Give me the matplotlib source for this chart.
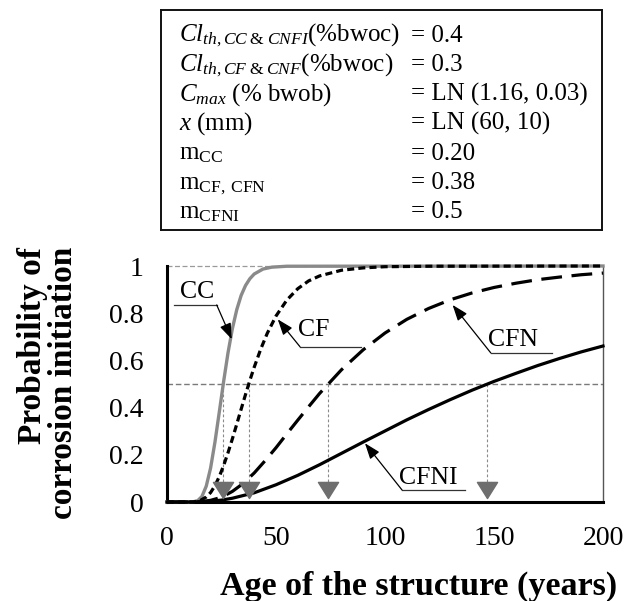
import matplotlib
matplotlib.use("Agg")
import matplotlib.pyplot as plt
from matplotlib.path import Path

plt.rcParams['font.family'] = ['Liberation Serif', 'DejaVu Serif']
plt.rcParams['mathtext.fontset'] = 'custom'
plt.rcParams['mathtext.rm'] = 'Liberation Serif'
plt.rcParams['mathtext.it'] = 'Liberation Serif:italic'
plt.rcParams['mathtext.bf'] = 'Liberation Serif:bold'

# Probability of corrosion initiation vs. age (years)
cc_years = [0, 10, 12, 14, 16, 18, 20, 22, 24, 26, 28, 30, 32, 34, 36, 38, 40, 44, 48, 55, 200]
cc_prob = [0, 0, 0.001, 0.005, 0.023, 0.067, 0.144, 0.254, 0.382, 0.512, 0.633, 0.735,
           0.815, 0.875, 0.917, 0.946, 0.966, 0.987, 0.995, 0.999, 1.0]

cf_years = [0, 12, 15, 18, 20, 22, 24, 26, 28, 30, 32, 34, 36, 38, 40, 43, 46, 50, 55,
            60, 65, 70, 80, 90, 100, 120, 200]
cf_prob = [0, 0, 0.005, 0.021, 0.040, 0.069, 0.108, 0.155, 0.209, 0.268, 0.330, 0.393,
           0.455, 0.515, 0.571, 0.648, 0.715, 0.788, 0.856, 0.904, 0.937, 0.958, 0.982,
           0.992, 0.997, 0.999, 1.0]

cfn_years = [0, 10, 15, 20, 25, 30, 35, 40, 45, 50, 55, 60, 65, 70, 74, 80, 90, 100, 110,
             120, 130, 140, 150, 160, 170, 180, 190, 200]
cfn_prob = [0, 0, 0.001, 0.007, 0.020, 0.045, 0.079, 0.123, 0.175, 0.230, 0.289, 0.347,
            0.404, 0.460, 0.500, 0.560, 0.645, 0.716, 0.774, 0.820, 0.857, 0.886, 0.909,
            0.927, 0.942, 0.953, 0.963, 0.970]

cfni_years = [0, 10, 15, 20, 25, 30, 40, 50, 60, 70, 80, 90, 100, 110, 120, 130, 140, 150,
              160, 170, 180, 190, 200]
cfni_prob = [0, 0, 0.001, 0.0035, 0.008, 0.016, 0.039, 0.073, 0.113, 0.158, 0.206, 0.254,
             0.301, 0.348, 0.392, 0.434, 0.474, 0.511, 0.545, 0.578, 0.608, 0.636, 0.661]

# mean initiation times read at P = 0.5
threshold = 0.5
init_times = [25.5, 37.8, 74, 147]

x_ticks = [0, 50, 100, 150, 200]
y_ticks = [0, 0.2, 0.4, 0.6, 0.8, 1]
y_ticklabels = ['0', '0.2', '0.4', '0.6', '0.8', '1']

param_names = [r'$Cl_{th,CC\;&\;CNFI}$(%bwoc)',
               r'$Cl_{th,CF\;&\;CNF}$(%bwoc)',
               r'$C_{max}$ (% bwob)',
               r'$x$ (mm)',
               r'm$_{\mathrm{CC}}$',
               r'm$_{\mathrm{CF,\;CFN}}$',
               r'm$_{\mathrm{CFNI}}$']
param_values = ['= 0.4', '= 0.3', '= LN (1.16, 0.03)', '= LN (60, 10)',
                '= 0.20', '= 0.38', '= 0.5']

W, H = 635, 601
fig = plt.figure(figsize=(W / 100, H / 100), dpi=100)

# ---- parameter box ----
bx0, by0, bx1, by1 = 161, 10, 602, 230
axb = fig.add_axes([bx0 / W, 1 - by1 / H, (bx1 - bx0) / W, (by1 - by0) / H])
axb.set_xticks([])
axb.set_yticks([])
axb.set_xlim(bx0, bx1)
axb.set_ylim(by1, by0)
for s in axb.spines.values():
    s.set_linewidth(1.4)
    s.set_color('#111111')
baselines = [41.5, 71, 100.5, 130, 159.5, 189, 218]
for name, val, yb in zip(param_names, param_values, baselines):
    axb.text(179, yb, name, fontsize=18, va='baseline', ha='left')
    axb.text(411, yb, val, fontsize=18, va='baseline', ha='left')

# ---- main plot ----
ax = fig.add_axes([167 / W, 1 - 502 / H, 436 / W, 236 / H])
ax.set_xlim(0, 200)
ax.set_ylim(0, 1)

gray = '#8a8a8a'
ax.axhline(1.0, color='#9a9a9a', lw=0.9, ls=(0, (4, 2)), zorder=1, clip_on=False)
ax.axhline(threshold, color='#7a7a7a', lw=1.0, ls=(0, (4, 2)), zorder=1)
for t in init_times:
    ax.plot([t, t], [threshold, 0.08], color='#8a8a8a', lw=0.8, ls=(0, (2.5, 2)), zorder=1)

ax.plot(cc_years, cc_prob, color=gray, lw=2.4, zorder=3, clip_on=False)
ax.plot(cf_years, cf_prob, color='black', lw=2.3, ls=(0, (2.2, 1.3)), zorder=3, clip_on=False)
ax.plot(cfn_years, cfn_prob, color='black', lw=2.3, ls=(0, (6.5, 3.0)), zorder=3, clip_on=False)
ax.plot(cfni_years, cfni_prob, color='black', lw=2.3, zorder=3, clip_on=False)

tri = Path([(-1, 1), (1, 1), (0, -0.6), (-1, 1)],
           [Path.MOVETO, Path.LINETO, Path.LINETO, Path.CLOSEPOLY])
ax.plot(init_times, [0.042] * len(init_times), ls='none', marker=tri,
        markersize=14.5, color='#6e6e6e', zorder=4, clip_on=False)

# curve labels with leader lines
labels = [
    ('CC', (13.6, 0.89), (3.0, 22.8, 0.835), (29.7, 0.69)),
    ('CF', (67.1, 0.73), (61.0, 88.9, 0.658), (50.8, 0.774)),
    ('CFN', (158.9, 0.686), (148.5, 176.5, 0.632), (131.0, 0.835)),
    ('CFNI', (120.0, 0.103), (107.8, 136.7, 0.051), (90.8, 0.249)),
]
for txt, (tx, ty), (u0, u1, uy), tip in labels:
    ax.text(tx, ty, txt, fontsize=18.5, ha='center', va='center', zorder=5)
    ax.plot([u0, u1], [uy, uy], color='#333333', lw=0.9, zorder=5)
    ax.annotate('', xy=tip, xytext=(u1 if txt == 'CC' else u0, uy),
                arrowprops=dict(arrowstyle='-|>,head_length=0.6,head_width=0.22',
                                color='black', lw=0.9, mutation_scale=16,
                                shrinkA=0, shrinkB=0), zorder=5)

ax.set_xticks(x_ticks)
ax.set_xticklabels([str(v) for v in x_ticks])
ax.set_yticks(y_ticks)
ax.set_yticklabels(y_ticklabels)
ax.tick_params(axis='both', length=0, labelsize=20)
ax.tick_params(axis='x', pad=17)
ax.tick_params(axis='y', pad=17)

ax.spines['top'].set_visible(False)
ax.spines['right'].set_color('#555555')
ax.spines['right'].set_linewidth(1.0)
ax.spines['left'].set_linewidth(2.2)
ax.spines['bottom'].set_linewidth(2.2)

fig.text(418.5 / W, 1 - 595 / H, 'Age of the structure (years)', fontsize=24.5,
         fontweight='bold', ha='center', va='baseline')
fig.text(33 / W, 1 - 247 / H, 'Probability of', fontsize=24, fontweight='bold',
         rotation=90, ha='center', va='top')
fig.text(64 / W, 1 - 247 / H, 'corrosion initiation', fontsize=24, fontweight='bold',
         rotation=90, ha='center', va='top')

fig.savefig('out.png', dpi=100)
